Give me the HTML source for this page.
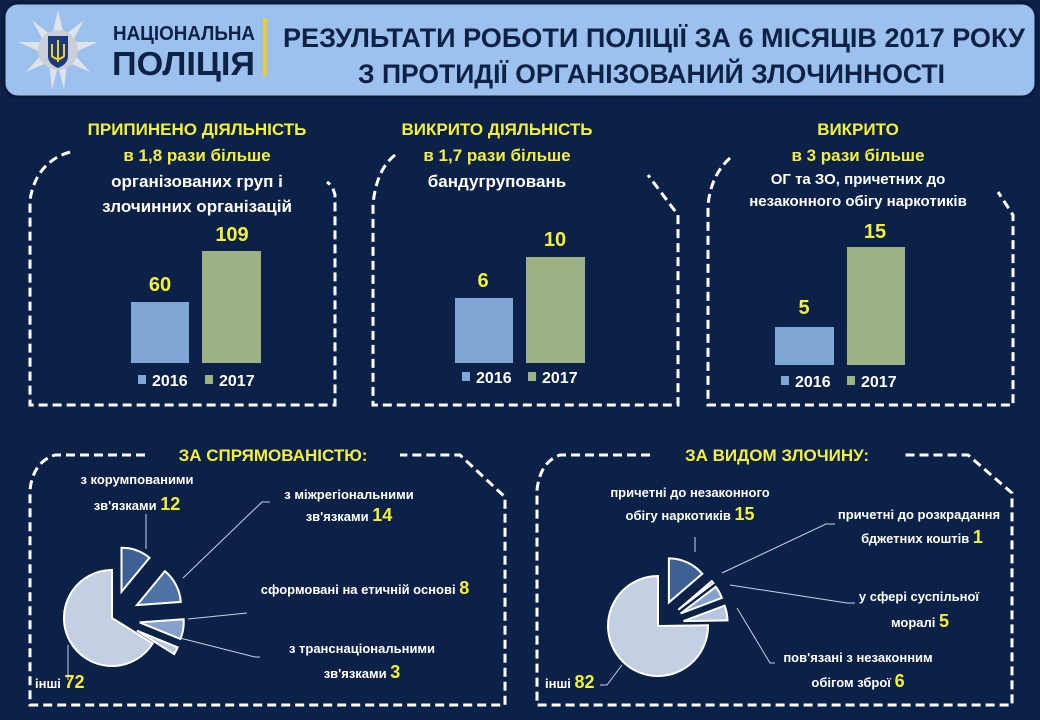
<!DOCTYPE html>
<html><head><meta charset="utf-8"><style>
html,body{margin:0;padding:0;background:#0c2148;}
svg{display:block;font-family:"Liberation Sans",sans-serif;font-weight:bold;}
</style></head><body>
<svg width="1040" height="720" viewBox="0 0 1040 720">
<rect width="1040" height="720" fill="#0c2148"/>
<!-- header -->
<rect x="4" y="3" width="1032" height="94" rx="14" fill="#9dc1ee" stroke="#0a1a38" stroke-width="3"/>
<g transform="translate(58,50)">
  <polygon points="0,-40 6,-14 26,-30 14,-8 40,-8 15,3 32,22 9,12 6,40 0,16 -6,40 -9,12 -32,22 -15,3 -40,-8 -14,-8 -26,-30 -6,-14" fill="#dfe3ea"/>
  <circle r="20" fill="#c9ced8"/>
  <path d="M-10,-14 H10 V6 Q10,14 0,18 Q-10,14 -10,6 Z" fill="#1c3a7a"/>
  <path d="M0,-10 V12 M-6,-6 V6 Q0,12 6,6 V-6" stroke="#f0d030" stroke-width="2" fill="none"/>
</g>
<text x="113" y="40" font-size="20" fill="#0d2245" textLength="142" lengthAdjust="spacingAndGlyphs">НАЦІОНАЛЬНА</text>
<text x="112" y="75" font-size="33" fill="#0d2245" textLength="143" lengthAdjust="spacingAndGlyphs">ПОЛІЦІЯ</text>
<rect x="263" y="18" width="4" height="58" fill="#e6cf3a"/>
<text x="283" y="47" font-size="27" fill="#0d2245" textLength="742" lengthAdjust="spacingAndGlyphs">РЕЗУЛЬТАТИ РОБОТИ ПОЛІЦІЇ ЗА 6 МІСЯЦІВ 2017 РОКУ</text>
<text x="358" y="83" font-size="27" fill="#0d2245" textLength="587" lengthAdjust="spacingAndGlyphs">З ПРОТИДІЇ ОРГАНІЗОВАНИЙ ЗЛОЧИННОСТІ</text>

<!-- dashed frames -->
<g fill="none" stroke="#fff" stroke-width="3" stroke-dasharray="9,5">
<path d="M70,152 Q36,162 30,200 L30,405 L335,405 L335,195 Q333,186 327,182"/>
<path d="M395,155 Q376,170 373,205 L373,405 L678,405 L678,215 L648,175"/>
<path d="M730,158 Q711,175 708,205 L708,405 L1013,405 L1013,215 L998,192"/>
<path d="M145,455 L55,455 Q33,462 30,490 L30,705 L505,705 L505,497 L460,455 L400,455"/>
<path d="M650,455 L560,455 Q540,462 537,490 L537,705 L1012,705 L1012,493 L968,455 L905,455"/>
</g>

<!-- bar panel titles -->
<g font-size="17" text-anchor="middle">
<text x="197" y="135" fill="#f4f03a">ПРИПИНЕНО  ДІЯЛЬНІСТЬ</text>
<text x="197" y="161" fill="#f4f03a">в 1,8 рази більше</text>
<text x="197" y="187" fill="#fff">організованих  груп і</text>
<text x="197" y="212" fill="#fff">злочинних  організацій</text>
<text x="497" y="135" fill="#f4f03a">ВИКРИТО ДІЯЛЬНІСТЬ</text>
<text x="497" y="161" fill="#f4f03a">в 1,7 рази більше</text>
<text x="497" y="187" fill="#fff">бандугруповань</text>
<text x="858" y="135" fill="#f4f03a">ВИКРИТО</text>
<text x="858" y="161" fill="#f4f03a">в 3 рази більше</text>
<text x="858" y="184" fill="#fff" font-size="15">ОГ та ЗО, причетних до</text>
<text x="858" y="206" fill="#fff" font-size="15">незаконного обігу наркотиків</text>
</g>

<!-- bars -->
<g fill="#7fa6d4"><rect x="131" y="302" width="58" height="61"/><rect x="455" y="298" width="58" height="65"/><rect x="775" y="327" width="59" height="38"/></g>
<g fill="#9cb285"><rect x="202" y="251" width="59" height="112"/><rect x="526" y="257" width="59" height="106"/><rect x="847" y="247" width="58" height="118"/></g>
<g font-size="20" fill="#f4f03a" text-anchor="middle">
<text x="160" y="291">60</text><text x="232" y="241">109</text>
<text x="483" y="287">6</text><text x="555" y="246">10</text>
<text x="804" y="314">5</text><text x="875" y="238">15</text>
</g>
<g font-size="16" fill="#fff">
<rect x="138" y="375" width="8" height="9" fill="#7fa6d4"/><text x="152" y="386">2016</text>
<rect x="205" y="375" width="8" height="9" fill="#9cb285"/><text x="219" y="386">2017</text>
<rect x="462" y="372" width="8" height="9" fill="#7fa6d4"/><text x="476" y="383">2016</text>
<rect x="528" y="372" width="8" height="9" fill="#9cb285"/><text x="542" y="383">2017</text>
<rect x="781" y="376" width="8" height="9" fill="#7fa6d4"/><text x="795" y="387">2016</text>
<rect x="847" y="376" width="8" height="9" fill="#9cb285"/><text x="861" y="387">2017</text>
</g>

<!-- pie titles -->
<g font-size="17" fill="#f4f03a" text-anchor="middle">
<text x="273" y="461">ЗА СПРЯМОВАНІСТЮ:</text>
<text x="777" y="461">ЗА ВИДОМ ЗЛОЧИНУ:</text>
</g>

<!-- pie 1 -->
<g stroke="#fff" stroke-width="2">
<path d="M112,618 L152.7,643.4 A48,48 0 1 1 112,570 Z" fill="#c4cfe3"/>
<path d="M121.5,591.7 L121.5,547.7 A44,44 0 0 1 149.5,557.8 Z" fill="#3e6193"/>
<path d="M136.9,605.1 L164.9,571.2 A44,44 0 0 1 180.8,601.9 Z" fill="#4e71a6"/>
<path d="M139.7,622.4 L183.6,619.2 A44,44 0 0 1 180.4,639 Z" fill="#86a1cb"/>
<path d="M136.9,630.7 L177.6,647.3 A44,44 0 0 1 174.2,654.1 Z" fill="#b8c6df"/>
</g>
<g stroke="#c9d2e3" stroke-width="1" fill="none">
<path d="M146,549 V514"/><path d="M183,578 L262,502 H270"/><path d="M188,619 L247,613"/><path d="M180,638 L255,657 H260"/><path d="M68,645 V680"/>
</g>
<!-- pie 2 -->
<g stroke="#fff" stroke-width="2">
<path d="M658,626 L708,625.3 A50,50 0 1 1 658,576 Z" fill="#c4cfe3"/>
<path d="M668.9,602.4 L668.9,558.4 A44,44 0 0 1 702.3,573.8 Z" fill="#3e6193"/>
<path d="M678.3,609.7 L711.7,581.1 A44,44 0 0 1 713.4,583.1 Z" fill="#4e71a6"/>
<path d="M680.7,613.4 L715.8,586.8 A44,44 0 0 1 721.8,597.9 Z" fill="#86a1cb"/>
<path d="M683.5,621.1 L724.6,605.6 A44,44 0 0 1 727.5,620.4 Z" fill="#b8c6df"/>
</g>
<g stroke="#c9d2e3" stroke-width="1" fill="none">
<path d="M695,552 V537"/><path d="M722,573 L826,524 H835"/><path d="M730,585 L847,603 H855"/><path d="M737,608 L770,663 H775"/><path d="M622,665 L607,685 H600"/>
</g>

<!-- pie labels -->
<g font-size="13" fill="#fff" text-anchor="middle">
<text x="137" y="484">з корумпованими</text>
<text x="137" y="510">зв'язками <tspan fill="#f4f03a" font-size="18">12</tspan></text>
<text x="349" y="499">з міжрегіональними</text>
<text x="349" y="521">зв'язками <tspan fill="#f4f03a" font-size="18">14</tspan></text>
<text x="365" y="594">сформовані на етичній основі <tspan fill="#f4f03a" font-size="18">8</tspan></text>
<text x="362" y="653">з транснаціональними</text>
<text x="362" y="678">зв'язками <tspan fill="#f4f03a" font-size="18">3</tspan></text>
<text x="690" y="497">причетні до незаконного</text>
<text x="690" y="520">обігу наркотиків <tspan fill="#f4f03a" font-size="18">15</tspan></text>
<text x="919" y="519">причетні до розкрадання</text>
<text x="922" y="543">бджетних коштів <tspan fill="#f4f03a" font-size="18">1</tspan></text>
<text x="919" y="601">у сфері суспільної</text>
<text x="920" y="627">моралі <tspan fill="#f4f03a" font-size="18">5</tspan></text>
<text x="858" y="662">пов'язані з незаконним</text>
<text x="858" y="687">обігом зброї <tspan fill="#f4f03a" font-size="18">6</tspan></text>
</g>
<g font-size="13" fill="#fff">
<text x="35" y="688">інші <tspan fill="#f4f03a" font-size="18">72</tspan></text>
<text x="545" y="688">інші <tspan fill="#f4f03a" font-size="18">82</tspan></text>
</g>
</svg>
</body></html>
